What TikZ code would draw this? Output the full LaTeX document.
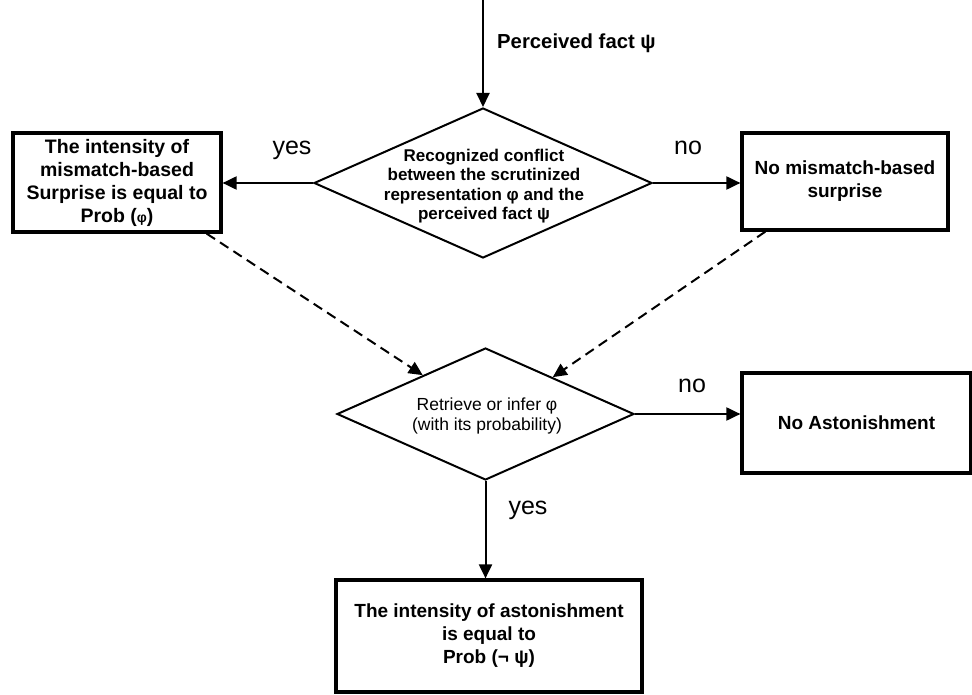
\documentclass[tikz,border=0pt]{standalone}
\usepackage{fontspec}
\setmainfont{Liberation Sans}
\usetikzlibrary{shapes.geometric,arrows.meta,calc}
\begin{document}
\begin{tikzpicture}[x=1pt,y=-1pt,
 box/.style={draw,line width=3.2pt,rectangle,inner sep=0pt,align=center,font=\fontsize{19}{23}\selectfont\bfseries},
 dia/.style={draw,line width=2pt,diamond,inner sep=0pt},
 dtext/.style={align=center,inner sep=0pt,font=\fontsize{17}{19.5}\selectfont\bfseries},
 arr/.style={line width=2pt,-{Triangle[length=14pt,width=13pt]}},
 darr/.style={arr,dash pattern=on 10pt off 6pt},
 lab/.style={font=\fontsize{25}{28}\selectfont,inner sep=0pt}]
\useasboundingbox (0,0) rectangle (972,695);

% decisions
\node[dia,minimum width=338pt,minimum height=150pt] (d1) at (483,183) {};
\node[dtext] (d1t) at (484,186) {Recognized conflict\\between the scrutinized\\representation φ and the\\perceived fact ψ};
\node[dia,minimum width=297pt,minimum height=132pt] (d2) at (485.5,414) {};
\node[dtext,font=\fontsize{17.5}{20}\selectfont] (d2t) at (487,416) {Retrieve or infer φ\\(with its probability)};

% boxes
\node[box,minimum width=208pt,minimum height=99pt,font=\fontsize{19.5}{23}\selectfont\bfseries] (b1) at (117,182.5) {The intensity of\\mismatch-based\\Surprise is equal to\\Prob ({\fontsize{14}{23}\selectfont φ})};
\node[box,minimum width=206pt,minimum height=97pt] (b2) at (845,181.5) {No mismatch-based\\surprise};
\node[box,minimum width=229pt,minimum height=100pt] (b3) at (856.5,423) {No Astonishment};
\node[box,minimum width=306pt,minimum height=112pt] (b4) at (489,636) {The intensity of astonishment\\is equal to\\Prob (¬ ψ)};

% labels
\coordinate (top) at (483,0);
\node[font=\fontsize{20.3}{24}\selectfont\bfseries,anchor=west,inner sep=0pt] (pf) at (497,43) {Perceived fact ψ};
\node[lab] (y1) at (292,150) {yes};
\node[lab] (n1) at (688,148) {no};
\node[lab] (n2) at (692,386) {no};
\node[lab] (y2) at (528,510) {yes};

% connectors
\draw[arr] (top) -- (d1.north);
\draw[arr] (d1.west) -- (d1.west -| b1.east);
\draw[arr] (d1.east) -- (d1.east -| b2.west);
\draw[arr] (d2.east) -- (d2.east -| b3.west);
\draw[arr] (d2.south) -- (d2.south |- b4.north);
\draw[darr] ([xshift=-16pt]b1.south east) -- ($(d2.west)!0.58!(d2.north)$);
\draw[darr] ([xshift=25pt]b2.south west) -- ($(d2.east)!0.55!(d2.north)$);
\end{tikzpicture}
\end{document}
